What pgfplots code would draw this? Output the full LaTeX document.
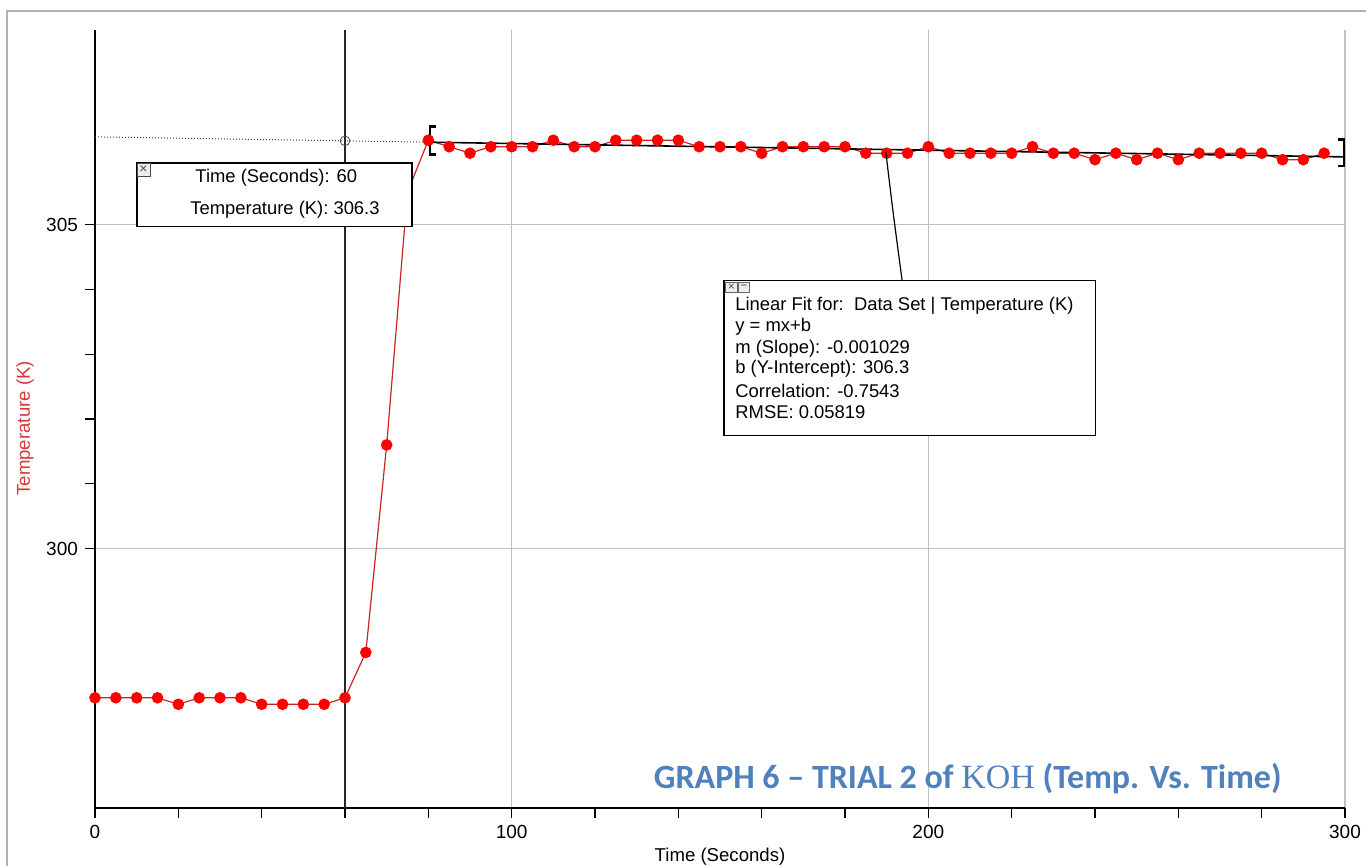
\documentclass[border=0pt]{standalone}
\usepackage{pgfplots}
\pgfplotsset{compat=1.18}
\usepackage{pgfplotstable}
\usepackage{fontspec}
\setmainfont{Liberation Sans}
\newfontfamily\titlefont{Carlito}
\newfontfamily\koh{Liberation Serif}
\definecolor{ptred}{RGB}{255,0,0}
\definecolor{linered}{RGB}{205,35,35}
\definecolor{labred}{RGB}{215,55,55}
\definecolor{titleblue}{RGB}{79,129,189}
\definecolor{gridgray}{RGB}{192,192,192}

\pgfplotstableread{
t T
0 297.7
5 297.7
10 297.7
15 297.7
20 297.6
25 297.7
30 297.7
35 297.7
40 297.6
45 297.6
50 297.6
55 297.6
60 297.7
65 298.4
70 301.6
75 305.5
80 306.3
85 306.2
90 306.1
95 306.2
100 306.2
105 306.2
110 306.3
115 306.2
120 306.2
125 306.3
130 306.3
135 306.3
140 306.3
145 306.2
150 306.2
155 306.2
160 306.1
165 306.2
170 306.2
175 306.2
180 306.2
185 306.1
190 306.1
195 306.1
200 306.2
205 306.1
210 306.1
215 306.1
220 306.1
225 306.2
230 306.1
235 306.1
240 306.0
245 306.1
250 306.0
255 306.1
260 306.0
265 306.1
270 306.1
275 306.1
280 306.1
285 306.0
290 306.0
295 306.1
}\data

\begin{document}
\begin{tikzpicture}
\begin{axis}[
  set layers,
  scale only axis, width=625pt, height=389pt,
  xmin=0, xmax=300, ymin=296, ymax=308,
  axis lines=left, axis line style={-, line width=1.2pt, black},
  xtick={0,100,200,300}, ytick={300,305},
  minor x tick num=4, minor y tick num=4,
  tick align=outside, major tick length=5pt, minor tick length=5pt,
  tick style={black, line width=0.6pt},
  grid=major, major grid style={gridgray, line width=0.6pt},
  /pgf/number format/assume math mode=true,
  ticklabel style={font=\fontsize{9.5}{11}\selectfont},
  xlabel={Time (Seconds)}, ylabel={Temperature (K)},
  label style={font=\fontsize{9.3}{11}\selectfont},
  xlabel style={at={(axis description cs:0.5,0)}, anchor=center, yshift=-24.5pt},
  ylabel style={at={(axis description cs:-0.056,0.488)}, anchor=center, text=labred},
  clip=false,
]
% outer frame
\draw[gray!60, line width=0.8pt] (axis description cs:-0.0702,-0.2) -- (axis description cs:-0.0702,1.0248) -- (axis description cs:1.2,1.0248);
\coordinate (BL) at (axis description cs:-0.076,-0.0733);
\coordinate (TR) at (axis description cs:1.0168,1.0386);
% cursor line
\addplot[black!85, line width=0.7pt] coordinates {(60,296) (60,308)};
% data
\addplot[linered, line width=0.6pt, mark=*, mark size=2.6pt, mark options={fill=ptred, draw=ptred}] table[x=t,y=T]{\data};
% fit line
\addplot[black!75, densely dotted, line width=0.5pt] coordinates {(0,306.352) (80,306.27)};
\addplot[black, line width=0.8pt] coordinates {(80,306.27) (300,306.043)};
\addplot[only marks, mark=o, mark size=2.4pt, black!70, thin] coordinates {(60,306.29)};
% brackets
\addplot[black, line width=1.2pt] coordinates {(81.8,306.51) (80.4,306.51) (80.4,306.08) (81.8,306.08)};
\addplot[black, line width=1.2pt] coordinates {(298.3,306.31) (299.8,306.31) (299.8,305.90) (298.3,305.90)};
\begin{pgfonlayer}{axis foreground}
% tooltip box
\draw[black, line width=0.6pt, fill=white] (axis cs:10.08,305.95) rectangle (axis cs:76.1,304.97);
\draw[black!70, line width=0.4pt, fill=gray!15] (axis cs:10.08,305.95) rectangle (axis cs:13.2,305.74);
\node[font=\fontsize{7}{8}\selectfont, text=black!70, inner sep=0pt] at (axis cs:11.64,305.845) {×};
\node[font=\fontsize{9.2}{11}\selectfont] at (axis cs:43.5,305.72) {Time (Seconds): 60};
\node[font=\fontsize{9.2}{11}\selectfont] at (axis cs:45.6,305.23) {Temperature (K): 306.3};
% fit box
\draw[black, line width=0.6pt] (axis cs:189.8,306.12) .. controls (axis cs:191.5,305.2) .. (axis cs:193.7,304.14);
\draw[black, line width=0.6pt, fill=white] (axis cs:150.96,304.14) rectangle (axis cs:240.2,301.75);
\draw[black!60, line width=0.4pt, fill=gray!15] (axis cs:151.4,304.11) rectangle (axis cs:154.1,303.95);
\draw[black!60, line width=0.4pt, fill=gray!15] (axis cs:154.4,304.11) rectangle (axis cs:157.0,303.95);
\node[font=\fontsize{6}{7}\selectfont, text=black!70, inner sep=0pt] at (axis cs:152.75,304.03) {×};
\node[font=\fontsize{6}{7}\selectfont, text=black!70, inner sep=0pt] at (axis cs:155.7,304.03) {−};
\begin{scope}[every node/.style={anchor=west, font=\fontsize{9.2}{11}\selectfont, inner sep=0pt}]
\node at (axis cs:153.6,303.75) {Linear Fit for:\ \ Data Set | Temperature (K)};
\node at (axis cs:153.6,303.43) {y = mx+b};
\node at (axis cs:153.6,303.09) {m (Slope): -0.001029};
\node at (axis cs:153.6,302.77) {b (Y-Intercept): 306.3};
\node at (axis cs:153.6,302.43) {Correlation: -0.7543};
\node at (axis cs:153.6,302.11) {RMSE: 0.05819};
\end{scope}
% title
\node[anchor=east, font=\titlefont\bfseries\fontsize{17}{20}\selectfont, text=titleblue, inner sep=0pt] at (axis cs:284.9,296.46) {GRAPH 6 – TRIAL 2 of {\koh\mdseries KOH} (Temp. Vs. Time)};
\end{pgfonlayer}
\end{axis}
\pgfresetboundingbox
\path[use as bounding box] (BL) rectangle (TR);
\end{tikzpicture}
\end{document}
